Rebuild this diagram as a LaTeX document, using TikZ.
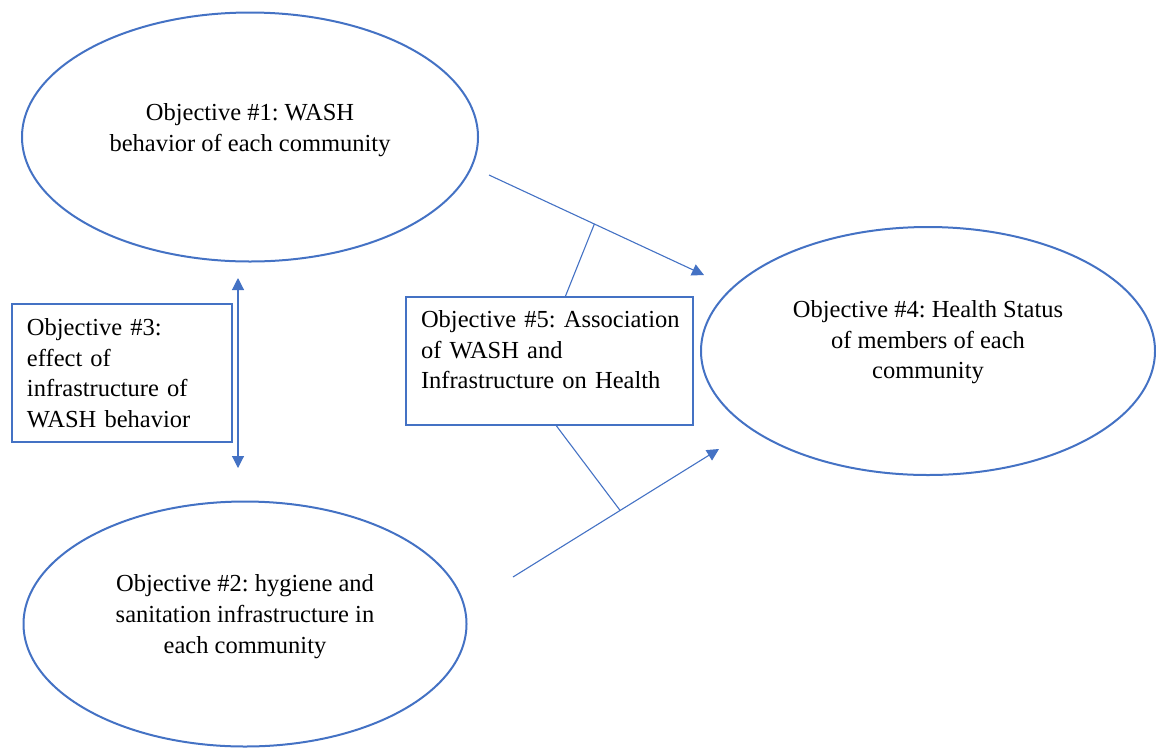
\documentclass[tikz,border=0pt]{standalone}
\usepackage{fontspec}
\setmainfont{Liberation Serif}
\usetikzlibrary{arrows.meta,positioning,calc,shapes.geometric}
\definecolor{wblue}{HTML}{4472C4}
\tikzset{
  txt/.style={font=\fontsize{24.5}{30.6}\selectfont\frenchspacing},
  oval/.style={ellipse,draw=wblue,line width=2pt,inner sep=0pt,align=center,txt},
  obox/.style={rectangle,draw=wblue,line width=2pt,align=left,anchor=north west,inner xsep=15pt,inner ysep=0pt,txt},
  arr/.style={-{Triangle[length=12pt,width=12pt]},line width=1.1pt,draw=wblue},
  darr/.style={{Triangle[length=12pt,width=12pt]}-{Triangle[length=12pt,width=12pt]},line width=1.1pt,draw=wblue},
  link/.style={line width=1.1pt,draw=wblue},
}
\begin{document}
\begin{tikzpicture}[x=1pt,y=-1pt]
  \useasboundingbox (0,0) rectangle (1156,748);
  \node[oval,minimum width=456pt,minimum height=249pt,text depth=19pt] (o1) at (250,137) {Objective \#1: WASH\\behavior of each community};
  \node[oval,minimum width=443pt,minimum height=245pt,text depth=20pt] (o2) at (245,624) {Objective \#2: hygiene and\\sanitation infrastructure in\\each community};
  \node[oval,minimum width=454pt,minimum height=248pt,text depth=23pt] (o4) at (928,351) {Objective \#4: Health Status\\of members of each\\community};
  \node[obox,text width=190pt,minimum height=138pt] (o3) at (11,303) {Objective \#3:\\effect of\\infrastructure of\\WASH behavior};
  \node[obox,text width=257pt,minimum height=128pt,text depth=84pt] (o5) at (405,296) {\mbox{Objective \#5: Association}\\of WASH and\\\mbox{Infrastructure on Health}};
  \coordinate (d1) at (238,278);
  \coordinate (d2) at (238,468);
  \coordinate (a1) at (489,175);
  \coordinate (b1) at (704,275);
  \coordinate (a2) at (513,577);
  \coordinate (b2) at (719,449);
  \draw[darr] (d1) -- (d2);
  \draw[arr] (a1) -- (b1);
  \draw[arr] (a2) -- (b2);
  \draw[link] ($(o5.north)+(16,0)$) -- ($(a1)!0.49!(b1)$);
  \draw[link] ($(o5.south)+(7,0)$) -- ($(a2)!0.52!(b2)$);
\end{tikzpicture}
\end{document}
